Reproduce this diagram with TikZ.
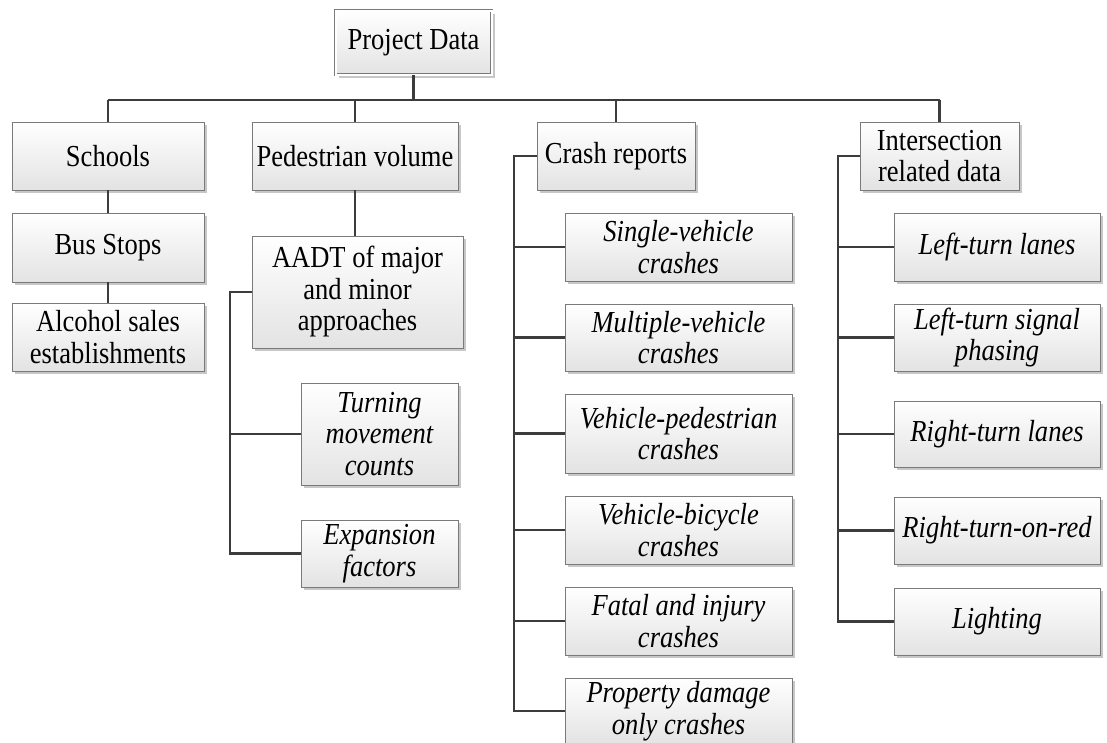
\documentclass[tikz,border=0pt]{standalone}
\usepackage{fontspec}
\setmainfont{Liberation Serif}[FakeStretch=0.87]
\usetikzlibrary{shadows}
\definecolor{linec}{HTML}{3C3C3C}
\definecolor{boxc}{HTML}{7A7A7A}
\begin{document}
\begin{tikzpicture}[x=1pt,y=-1pt,
  box/.style={draw=boxc, line width=0.9pt, rectangle, inner sep=0pt, align=center,
    top color=white, bottom color=black!11,
    drop shadow={shadow xshift=3pt, shadow yshift=-3pt, fill=black!22, opacity=1},
    font=\fontsize{30.5}{31.5}\selectfont},
  leaf/.style={box, font=\fontsize{30.5}{31.5}\selectfont\itshape},
  conn/.style={draw=linec, line width=2.6pt}]
\useasboundingbox[fill=white] (0,0) rectangle (1107,742);

% root
\node[box, double=white, double distance=2pt, minimum width=156pt, minimum height=64pt] (pd) at (413.5,42.5) {Project Data};

% level 1
\node[box, minimum width=192pt, minimum height=68pt] (sch) at (108,156) {Schools};
\node[box, minimum width=206pt, minimum height=68pt] (ped) at (355,156) {Pedestrian volume};
\node[box, minimum width=158pt, minimum height=68pt] (crash) at (616,156) {Crash reports};
\node[box, minimum width=159pt, minimum height=68pt] (int) at (939.5,156) {Intersection\\related data};

% schools column
\node[box, minimum width=192pt, minimum height=69pt] (bus) at (108,247.5) {Bus Stops};
\node[box, minimum width=192pt, minimum height=68pt] (alc) at (108,337) {Alcohol sales\\establishments};

% pedestrian column
\node[box, minimum width=211pt, minimum height=112pt] (aadt) at (357.5,292) {AADT of major\\and minor\\approaches};
\node[leaf, minimum width=157pt, minimum height=102pt] (turn) at (379.5,434) {Turning\\movement\\counts};
\node[leaf, minimum width=157pt, minimum height=67pt] (exp) at (379.5,553.5) {Expansion\\factors};

% crash column
\node[leaf, minimum width=227pt, minimum height=68pt] (sv) at (678.5,247) {Single-vehicle\\crashes};
\node[leaf, minimum width=227pt, minimum height=67pt] (mv) at (678.5,337.5) {Multiple-vehicle\\crashes};
\node[leaf, minimum width=227pt, minimum height=79pt] (vp) at (678.5,433.5) {Vehicle-pedestrian\\crashes};
\node[leaf, minimum width=227pt, minimum height=68pt] (vb) at (678.5,530) {Vehicle-bicycle\\crashes};
\node[leaf, minimum width=227pt, minimum height=68pt] (fi) at (678.5,621) {Fatal and injury\\crashes};
\node[leaf, minimum width=227pt, minimum height=66pt] (pdo) at (678.5,711) {Property damage\\only crashes};

% intersection column
\node[leaf, minimum width=206pt, minimum height=68pt] (lt) at (997,247) {Left-turn lanes};
\node[leaf, minimum width=206pt, minimum height=67pt] (ls) at (997,337.5) {Left-turn signal\\phasing};
\node[leaf, minimum width=206pt, minimum height=66pt] (rl) at (997,434) {Right-turn lanes};
\node[leaf, minimum width=206pt, minimum height=67pt] (rr) at (997,530.5) {Right-turn-on-red};
\node[leaf, minimum width=206pt, minimum height=67pt] (li) at (997,621.5) {Lighting};

% bus
\coordinate (busL) at (108,100);
\coordinate (busR) at (939.5,100);
\draw[conn] (pd.south) -- (pd.south |- busL);
\draw[conn] (busL) -- (busR);
\draw[conn] (busL) -- (sch.north);
\draw[conn] (ped.north |- busL) -- (ped.north);
\draw[conn] (crash.north |- busL) -- (crash.north);
\draw[conn] (busR) -- (int.north);

% schools chain
\draw[conn] (sch.south) -- (bus.north);
\draw[conn] (bus.south) -- (alc.north);

% pedestrian chain
\draw[conn] (ped.south) -- (ped.south |- aadt.north);
\coordinate (ab) at (230,292);
\draw[conn] (aadt.west) -- (ab) |- (exp.west);
\draw[conn] (ab |- turn.west) -- (turn.west);

% crash bracket
\coordinate (cb) at (514,156);
\draw[conn] (crash.west) -- (cb) |- (pdo.west);
\foreach \n in {sv,mv,vp,vb,fi}{\draw[conn] (cb |- \n.west) -- (\n.west);}

% intersection bracket
\coordinate (ib) at (838,156);
\draw[conn] (int.west) -- (ib) |- (li.west);
\foreach \n in {lt,ls,rl,rr}{\draw[conn] (ib |- \n.west) -- (\n.west);}
\end{tikzpicture}
\end{document}
